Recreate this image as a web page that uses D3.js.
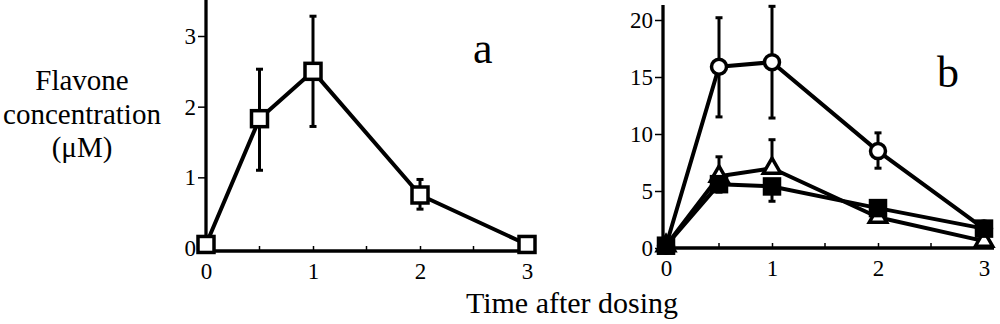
<!DOCTYPE html>
<html>
<head>
<meta charset="utf-8">
<script src="https://cdn.jsdelivr.net/npm/d3@7"></script>
<style>
  body { margin: 0; background: #fff; }
  svg text, svg tspan { font-family: "Liberation Serif", "Times New Roman", serif !important; fill: #000; }
</style>
</head>
<body>
<svg width="1000" height="324" font-family="Liberation Serif"></svg>
<script>
var svg = d3.select("svg");
var SERIF = "'Liberation Serif', 'Times New Roman', serif";

// data
var times = [0, 0.5, 1, 2, 3];
var aMean = [0.05, 1.83, 2.5, 0.75, 0.05];
var aLow  = [null, 1.1, 1.72, 0.55, null];
var aHigh = [null, 2.53, 3.28, 0.97, null];

var bCircle     = [0.2, 15.9, 16.3, 8.5, 1.7];
var bCircleLow  = [null, 11.5, 11.4, 7.0, null];
var bCircleHigh = [null, 20.2, 21.2, 10.1, null];
var bTri        = [0.2, 6.3, 7.0, 2.7, 0.6];
var bTriLow     = [null, null, null, 2.3, null];
var bTriHigh    = [null, 8.0, 9.5, null, null];
var bSq         = [0.2, 5.6, 5.4, 3.5, 1.7];
var bSqLow      = [null, 4.9, 4.1, null, null];
var bSqHigh     = [null, null, null, null, null];

var xTicks = [0, 1, 2, 3];
var xMinor = [0.5, 1.5, 2.5];
var aYTicks = [0, 1, 2, 3];
var bYTicks = [0, 5, 10, 15, 20];

function zip(m, lo, hi) {
  return times.map(function(t, i) { return {t: t, v: m[i], lo: lo[i], hi: hi[i]}; });
}

function panel(opts) {
  var x = d3.scaleLinear().domain([0, 3]).range(opts.xr);
  var y = d3.scaleLinear().domain(opts.yd).range(opts.yr);
  var g = svg.append("g");

  // y axis
  var ya = g.append("g")
    .attr("transform", "translate(" + opts.yAxisX + ",0)")
    .call(d3.axisLeft(y).tickValues(opts.yTicks).tickSize(8).tickPadding(2).tickFormat(d3.format("d")));
  ya.attr("font-family", SERIF);
  ya.select(".domain").remove();
  ya.selectAll(".tick line").attr("stroke", "#000").attr("stroke-width", 1.5);
  ya.selectAll("text").style("font-size", "23px").style("font-family", SERIF);
  g.append("line")
    .attr("x1", opts.yAxisX).attr("x2", opts.yAxisX)
    .attr("y1", opts.axisTop).attr("y2", opts.axisY + 1.5)
    .attr("stroke", "#000").attr("stroke-width", 3.3);

  // x axis
  var xa = g.append("g")
    .attr("transform", "translate(0," + opts.axisY + ")")
    .call(d3.axisBottom(x).tickValues(xTicks).tickSize(-5).tickPadding(12).tickFormat(d3.format("d")));
  xa.attr("font-family", SERIF);
  xa.select(".domain").remove();
  xa.selectAll(".tick line").attr("stroke", "#000").attr("stroke-width", 1.5);
  xa.selectAll("text").style("font-size", "23px").style("font-family", SERIF);
  g.selectAll(".minor").data(xMinor).enter().append("line")
    .attr("x1", x).attr("x2", x)
    .attr("y1", opts.axisY).attr("y2", opts.axisY - 5)
    .attr("stroke", "#000").attr("stroke-width", 1.5);
  g.append("line")
    .attr("x1", opts.yAxisX - 1.5).attr("x2", opts.axisRight)
    .attr("y1", opts.axisY).attr("y2", opts.axisY)
    .attr("stroke", "#000").attr("stroke-width", 3.3);

  g.append("text")
    .attr("x", opts.labelX).attr("y", opts.labelY)
    .style("font-size", "44px").style("font-family", SERIF)
    .text(opts.label);

  var line = d3.line().x(function(d) { return x(d.t); }).y(function(d) { return y(d.v); });

  opts.series.forEach(function(s) {
    var data = s.data;
    // error bars
    var eb = g.append("g");
    data.forEach(function(d) {
      [d.lo, d.hi].forEach(function(e) {
        if (e == null) return;
        eb.append("line")
          .attr("x1", x(d.t)).attr("x2", x(d.t))
          .attr("y1", y(d.v)).attr("y2", y(e))
          .attr("stroke", "#000").attr("stroke-width", 3);
        eb.append("line")
          .attr("x1", x(d.t) - 3.5).attr("x2", x(d.t) + 3.5)
          .attr("y1", y(e)).attr("y2", y(e))
          .attr("stroke", "#000").attr("stroke-width", 3);
      });
    });
    g.append("path")
      .datum(data)
      .attr("d", line)
      .attr("fill", "none")
      .attr("stroke", "#000")
      .attr("stroke-width", 4)
      .attr("stroke-linejoin", "round");
  });

  opts.series.forEach(function(s) {
    var m = g.selectAll(null).data(s.data).enter();
    if (s.shape === "square") {
      m.append("rect")
        .attr("x", function(d) { return x(d.t) - s.size / 2; })
        .attr("y", function(d) { return y(d.v) - s.size / 2; })
        .attr("width", s.size).attr("height", s.size)
        .attr("fill", s.fill).attr("stroke", "#000").attr("stroke-width", 3.5);
    } else if (s.shape === "circle") {
      m.append("circle")
        .attr("cx", function(d) { return x(d.t); })
        .attr("cy", function(d) { return y(d.v); })
        .attr("r", s.size / 2)
        .attr("fill", s.fill).attr("stroke", "#000").attr("stroke-width", 3.5);
    } else {
      m.append("path")
        .attr("transform", function(d) { return "translate(" + x(d.t) + "," + y(d.v) + ")"; })
        .attr("d", d3.symbol(d3.symbolTriangle, 130))
        .attr("fill", s.fill).attr("stroke", "#000").attr("stroke-width", 3.5);
    }
  });
}

panel({
  xr: [206, 527], yd: [0, 3], yr: [248, 36],
  yAxisX: 206, axisY: 251, axisTop: 0, axisRight: 536,
  yTicks: aYTicks, label: "a", labelX: 473, labelY: 63,
  series: [
    {data: zip(aMean, aLow, aHigh), shape: "square", fill: "#fff", size: 16}
  ]
});

panel({
  xr: [666, 984], yd: [0, 20], yr: [248, 20],
  yAxisX: 663, axisY: 248, axisTop: 5, axisRight: 994,
  yTicks: bYTicks, label: "b", labelX: 937, labelY: 87,
  series: [
    {data: zip(bCircle, bCircleLow, bCircleHigh), shape: "circle", fill: "#fff", size: 15},
    {data: zip(bTri, bTriLow, bTriHigh), shape: "triangle", fill: "#fff", size: 14},
    {data: zip(bSq, bSqLow, bSqHigh), shape: "square", fill: "#000", size: 15}
  ]
});

// shared labels
var yl = svg.append("text")
  .attr("x", 82).attr("y", 0)
  .attr("text-anchor", "middle")
  .style("font-size", "29px").style("font-family", SERIF);
yl.selectAll("tspan")
  .data(["Flavone", "concentration", "(\u03bcM)"])
  .enter().append("tspan")
  .attr("x", 82)
  .attr("y", function(d, i) { return 90 + i * 33.5; })
  .style("font-family", SERIF)
  .text(function(d) { return d; });

svg.append("text")
  .attr("x", 572).attr("y", 313)
  .attr("text-anchor", "middle")
  .style("font-size", "30px").style("font-family", SERIF)
  .text("Time after dosing");
</script>
</body>
</html>
